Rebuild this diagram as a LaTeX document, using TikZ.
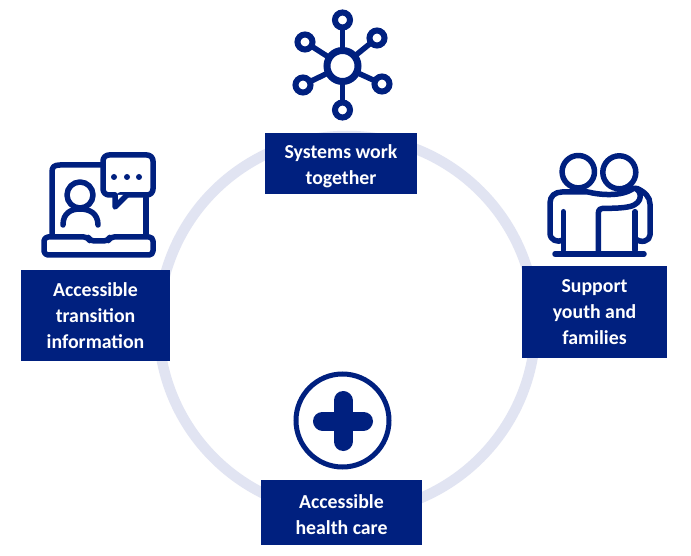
\documentclass[tikz,border=0pt]{standalone}
\usepackage{fontspec}
\setmainfont{Carlito}
\definecolor{navy}{HTML}{00207F}
\definecolor{ringblue}{HTML}{E1E4F2}
\tikzset{
    label box/.style={fill=navy, text=white, font=\fontsize{19.8}{26}\selectfont\bfseries, align=center, inner sep=0pt, outer sep=0pt},
    hub/.style={circle, draw=navy, line width=7pt, fill=white, minimum size=31pt, inner sep=0pt, outer sep=0pt},
    sat/.style={circle, draw=navy, line width=6pt, fill=white, minimum size=15pt, inner sep=0pt, outer sep=0pt},
    spoke/.style={draw=navy, line width=5.5pt},
    icon/.style={draw=navy, line width=5.5pt, line cap=round, line join=round},
    dot/.style={circle, fill=navy, inner sep=0pt, minimum size=6pt}
}

\begin{document}
\begin{tikzpicture}[x=1pt, y=-1pt]
        \useasboundingbox (0,0) rectangle (691,556);
        \fill[white] (0,0) rectangle (691,556);

        % ring
        \node[circle, draw=ringblue, line width=10.5pt, minimum size=377pt, inner sep=0pt, outer sep=0pt] (ring) at (347,324.5) {};

        % boxes
        \node[label box, minimum width=152pt, minimum height=61pt] (systems) at (341,163.5) {\rule{0pt}{19pt}Systems work\\together};
        \node[label box, minimum width=149pt, minimum height=91pt] (transition) at (95.5,315.5) {Accessible\\transition\\information};
        \node[label box, minimum width=145pt, minimum height=92pt] (support) at (594.5,312) {Support\\youth and\\families};
        \node[label box, minimum width=161pt, minimum height=65pt] (health) at (341.5,512.5) {\rule{0pt}{18pt}Accessible\\health care};

        % network icon
        \node[sat] (sat a) at (342.5,20) {};
        \node[sat] (sat b) at (377,38) {};
        \node[sat] (sat c) at (382,84) {};
        \node[sat] (sat d) at (342.5,110) {};
        \node[sat] (sat e) at (303,85) {};
        \node[sat] (sat f) at (305,42) {};
        \node[hub] (hubnode) at (342.5,66) {};
        \foreach \s in {a,b,c,d,e,f} {
            \draw[spoke] (hubnode) -- (sat \s);
        }

        % laptop icon
        \draw[icon] (103,165) -- (60,165) .. controls (54,165) and (52,167) .. (52,172) -- (52,235);
        \draw[icon] (146,198) -- (146,235);
        \draw[icon, rounded corners=4pt] (44,237) -- (44,255) -- (153,255) -- (153,237) -- (110,237) -- (108,241) -- (90,241) -- (88,237) -- cycle;
        \draw[icon, fill=white, rounded corners=6pt] (120,195) -- (153,195) -- (153,155) -- (103,155) -- (103,195) -- (115,195);
        \draw[icon, fill=white] (115,195) -- (115,207) -- (127,195);
        \node[dot] (dot a) at (114,177) {};
        \node[dot] (dot b) at (127,177) {};
        \node[dot] (dot c) at (139,177) {};
        \draw[icon] (80,195) circle (13);
        \draw[icon] (63,225) .. controls (63,213) and (71,209) .. (80,209) .. controls (89,209) and (98,213) .. (98,225);

        % people icon
        \draw[icon] (578.3,171.7) circle (16.2);
        \draw[icon] (619.3,172.3) circle (16.5);
        \draw[icon] (563.3,211.7) -- (563.3,250);
        \draw[icon] (563.3,240) .. controls (557,243) and (550,240) .. (550,233) -- (550,203) .. controls (550,196) and (555,192) .. (562,192) -- (588,192) .. controls (600,195) and (622,197) .. (634,188) .. controls (642,190) and (644,203) .. (630,206.5) .. controls (622,208.3) and (612,208.3) .. (606,208.3) .. controls (600,208.3) and (598.3,209) .. (598.3,214) -- (598.3,251);
        \draw[icon] (636.7,188.3) .. controls (645,192) and (650,197) .. (650,204) -- (650,235) .. controls (650,241) and (641,244) .. (635,238.3);
        \draw[icon] (635,211.7) -- (635,250);
        \draw[icon] (555,254) -- (644,254);

        % plus icon
        \draw[draw=navy, line width=5pt, fill=white] (342.5,420.5) circle (46.5);
        \draw[icon, line width=19pt] (343,400.5) -- (343,441.5);
        \draw[icon, line width=19pt] (322.5,421) -- (363.5,421);
    \end{tikzpicture}
\end{document}
